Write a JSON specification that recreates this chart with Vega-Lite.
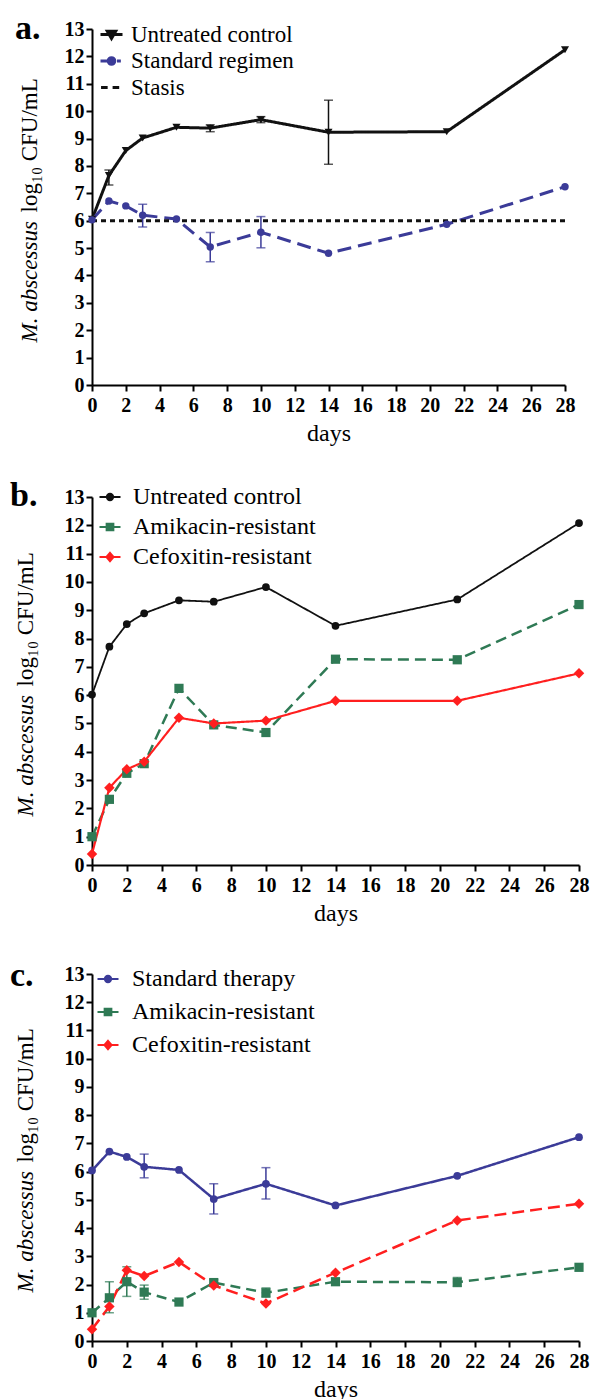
{
  "$schema": "https://vega.github.io/schema/vega-lite/v6.json",
  "background": "white",
  "padding": {"left": 10, "top": 12, "right": 2, "bottom": 2},
  "datasets": {
    "d": [
      {"panel":"a","series":"Untreated control","day":0,"v":6.05},
      {"panel":"a","series":"Untreated control","day":1,"v":7.65,"lo":7.3,"hi":7.85},
      {"panel":"a","series":"Untreated control","day":2,"v":8.56},
      {"panel":"a","series":"Untreated control","day":3,"v":9.02},
      {"panel":"a","series":"Untreated control","day":5,"v":9.41},
      {"panel":"a","series":"Untreated control","day":7,"v":9.38,"lo":9.25,"hi":9.5},
      {"panel":"a","series":"Untreated control","day":10,"v":9.69,"lo":9.58,"hi":9.8},
      {"panel":"a","series":"Untreated control","day":14,"v":9.23,"lo":8.06,"hi":10.4},
      {"panel":"a","series":"Untreated control","day":21,"v":9.25},
      {"panel":"a","series":"Untreated control","day":28,"v":12.24},
      {"panel":"a","series":"Standard regimen","day":0,"v":6.03},
      {"panel":"a","series":"Standard regimen","day":1,"v":6.72},
      {"panel":"a","series":"Standard regimen","day":2,"v":6.54},
      {"panel":"a","series":"Standard regimen","day":3,"v":6.2,"lo":5.77,"hi":6.6},
      {"panel":"a","series":"Standard regimen","day":5,"v":6.06},
      {"panel":"a","series":"Standard regimen","day":7,"v":5.04,"lo":4.5,"hi":5.57},
      {"panel":"a","series":"Standard regimen","day":10,"v":5.58,"lo":5.01,"hi":6.15},
      {"panel":"a","series":"Standard regimen","day":14,"v":4.81},
      {"panel":"a","series":"Standard regimen","day":21,"v":5.87},
      {"panel":"a","series":"Standard regimen","day":28,"v":7.24},
      {"panel":"a","series":"Stasis","day":0,"v":6.0},
      {"panel":"a","series":"Stasis","day":28,"v":6.0},
      {"panel":"b","series":"Untreated control","day":0,"v":6.02},
      {"panel":"b","series":"Untreated control","day":1,"v":7.71},
      {"panel":"b","series":"Untreated control","day":2,"v":8.51},
      {"panel":"b","series":"Untreated control","day":3,"v":8.89},
      {"panel":"b","series":"Untreated control","day":5,"v":9.35},
      {"panel":"b","series":"Untreated control","day":7,"v":9.3},
      {"panel":"b","series":"Untreated control","day":10,"v":9.82},
      {"panel":"b","series":"Untreated control","day":14,"v":8.45},
      {"panel":"b","series":"Untreated control","day":21,"v":9.38},
      {"panel":"b","series":"Untreated control","day":28,"v":12.08},
      {"panel":"b","series":"Amikacin-resistant","day":0,"v":1.0},
      {"panel":"b","series":"Amikacin-resistant","day":1,"v":2.32},
      {"panel":"b","series":"Amikacin-resistant","day":2,"v":3.24},
      {"panel":"b","series":"Amikacin-resistant","day":3,"v":3.58},
      {"panel":"b","series":"Amikacin-resistant","day":5,"v":6.24},
      {"panel":"b","series":"Amikacin-resistant","day":7,"v":4.95},
      {"panel":"b","series":"Amikacin-resistant","day":10,"v":4.68},
      {"panel":"b","series":"Amikacin-resistant","day":14,"v":7.27},
      {"panel":"b","series":"Amikacin-resistant","day":21,"v":7.25},
      {"panel":"b","series":"Amikacin-resistant","day":28,"v":9.2},
      {"panel":"b","series":"Cefoxitin-resistant","day":0,"v":0.39},
      {"panel":"b","series":"Cefoxitin-resistant","day":1,"v":2.73},
      {"panel":"b","series":"Cefoxitin-resistant","day":2,"v":3.38},
      {"panel":"b","series":"Cefoxitin-resistant","day":3,"v":3.65},
      {"panel":"b","series":"Cefoxitin-resistant","day":5,"v":5.2},
      {"panel":"b","series":"Cefoxitin-resistant","day":7,"v":5.0},
      {"panel":"b","series":"Cefoxitin-resistant","day":10,"v":5.1},
      {"panel":"b","series":"Cefoxitin-resistant","day":14,"v":5.8},
      {"panel":"b","series":"Cefoxitin-resistant","day":21,"v":5.8},
      {"panel":"b","series":"Cefoxitin-resistant","day":28,"v":6.77},
      {"panel":"c","series":"Standard therapy","day":0,"v":6.04},
      {"panel":"c","series":"Standard therapy","day":1,"v":6.71},
      {"panel":"c","series":"Standard therapy","day":2,"v":6.52},
      {"panel":"c","series":"Standard therapy","day":3,"v":6.17,"lo":5.78,"hi":6.62},
      {"panel":"c","series":"Standard therapy","day":5,"v":6.06},
      {"panel":"c","series":"Standard therapy","day":7,"v":5.03,"lo":4.5,"hi":5.57},
      {"panel":"c","series":"Standard therapy","day":10,"v":5.57,"lo":5.03,"hi":6.14},
      {"panel":"c","series":"Standard therapy","day":14,"v":4.8},
      {"panel":"c","series":"Standard therapy","day":21,"v":5.85},
      {"panel":"c","series":"Standard therapy","day":28,"v":7.22},
      {"panel":"c","series":"Amikacin-resistant","day":0,"v":1.0},
      {"panel":"c","series":"Amikacin-resistant","day":1,"v":1.53,"lo":1.0,"hi":2.1},
      {"panel":"c","series":"Amikacin-resistant","day":2,"v":2.1,"lo":1.58,"hi":2.63},
      {"panel":"c","series":"Amikacin-resistant","day":3,"v":1.73,"lo":1.48,"hi":1.98},
      {"panel":"c","series":"Amikacin-resistant","day":5,"v":1.38},
      {"panel":"c","series":"Amikacin-resistant","day":7,"v":2.07,"lo":1.97,"hi":2.17},
      {"panel":"c","series":"Amikacin-resistant","day":10,"v":1.71,"lo":1.55,"hi":1.88},
      {"panel":"c","series":"Amikacin-resistant","day":14,"v":2.1,"lo":2.0,"hi":2.2},
      {"panel":"c","series":"Amikacin-resistant","day":21,"v":2.08,"lo":1.93,"hi":2.25},
      {"panel":"c","series":"Amikacin-resistant","day":28,"v":2.61},
      {"panel":"c","series":"Cefoxitin-resistant","day":0,"v":0.42},
      {"panel":"c","series":"Cefoxitin-resistant","day":1,"v":1.22},
      {"panel":"c","series":"Cefoxitin-resistant","day":2,"v":2.51},
      {"panel":"c","series":"Cefoxitin-resistant","day":3,"v":2.3},
      {"panel":"c","series":"Cefoxitin-resistant","day":5,"v":2.8},
      {"panel":"c","series":"Cefoxitin-resistant","day":7,"v":1.97},
      {"panel":"c","series":"Cefoxitin-resistant","day":10,"v":1.33},
      {"panel":"c","series":"Cefoxitin-resistant","day":14,"v":2.42},
      {"panel":"c","series":"Cefoxitin-resistant","day":21,"v":4.27},
      {"panel":"c","series":"Cefoxitin-resistant","day":28,"v":4.86}
    ]
  },
  "data": {"name": "d"},
  "columns": 1,
  "align": "none",
  "spacing": 34,
  "resolve": {"scale": {"color": "independent", "fill": "independent", "stroke": "independent", "strokeDash": "independent", "shape": "independent", "strokeWidth": "independent"}},
  "concat": [
    {
      "title": {"text": "a.", "anchor": "start", "frame": "group", "font": "Liberation Serif", "fontSize": 34, "fontWeight": "bold", "color": "black", "offset": 0, "baseline": "alphabetic", "dx": -77, "dy": 54},
      "width": 473, "height": 356,
      "transform": [{"filter": "datum.panel === 'a'"}],
      "layer": [
        {
          "encoding": {
            "x": {"field": "day", "type": "quantitative", "scale": {"domain": [0, 28], "nice": false},
              "axis": {"values": [0,2,4,6,8,10,12,14,16,18,20,22,24,26,28], "title": "days", "labelFlush": false, "labelOverlap": false, "labelPadding": 4, "titlePadding": 6}}
          },
          "layer": [
            {"mark": {"type": "line", "strokeWidth": 3},
              "encoding": {
                "y": {"field": "v", "type": "quantitative", "scale": {"domain": [0, 13], "nice": false},
                  "axis": {"values": [0,1,2,3,4,5,6,7,8,9,10,11,12,13], "labelOverlap": false, "title": "log₁₀ CFU/mL", "titleAngle": 270, "titleAlign": "left", "titleBaseline": "alphabetic", "titleX": -56, "titleY": 183}},
                "color": {"field": "series", "type": "nominal", "scale": {"range": ["#3b3b98", "#111111", "#111111"]}, "legend": null},
                "strokeDash": {"field": "series", "type": "nominal", "scale": {"range": [[14, 7], [5, 4], [1, 0]]}, "legend": null}
              }},
            {"transform": [{"filter": "isValid(datum.lo)"}], "mark": {"type": "rule", "strokeWidth": 1.5},
              "encoding": {"y": {"field": "lo", "type": "quantitative", "scale": {"domain": [0, 13], "nice": false},
                  "axis": {"values": [0,1,2,3,4,5,6,7,8,9,10,11,12,13], "labelOverlap": false, "title": "log₁₀ CFU/mL", "titleAngle": 270, "titleAlign": "left", "titleBaseline": "alphabetic", "titleX": -56, "titleY": 183}},
                "y2": {"field": "hi"},
                "color": {"field": "series", "type": "nominal", "legend": null}}},
            {"transform": [{"filter": "isValid(datum.lo)"}], "mark": {"type": "tick", "orient": "horizontal", "size": 9, "thickness": 1.5},
              "encoding": {"y": {"field": "lo", "type": "quantitative", "scale": {"domain": [0, 13], "nice": false},
                  "axis": {"values": [0,1,2,3,4,5,6,7,8,9,10,11,12,13], "labelOverlap": false, "title": "log₁₀ CFU/mL", "titleAngle": 270, "titleAlign": "left", "titleBaseline": "alphabetic", "titleX": -56, "titleY": 183}},
                "color": {"field": "series", "type": "nominal", "legend": null}}},
            {"transform": [{"filter": "isValid(datum.lo)"}], "mark": {"type": "tick", "orient": "horizontal", "size": 9, "thickness": 1.5},
              "encoding": {"y": {"field": "hi", "type": "quantitative", "scale": {"domain": [0, 13], "nice": false},
                  "axis": {"values": [0,1,2,3,4,5,6,7,8,9,10,11,12,13], "labelOverlap": false, "title": "log₁₀ CFU/mL", "titleAngle": 270, "titleAlign": "left", "titleBaseline": "alphabetic", "titleX": -56, "titleY": 183}},
                "color": {"field": "series", "type": "nominal", "legend": null}}},
            {"transform": [{"filter": "datum.series === 'Untreated control'"}], "mark": {"type": "point", "filled": true, "opacity": 1, "size": 65, "shape": "triangle-down", "color": "#111111"},
              "encoding": {"y": {"field": "v", "type": "quantitative", "scale": {"domain": [0, 13], "nice": false},
                  "axis": {"values": [0,1,2,3,4,5,6,7,8,9,10,11,12,13], "labelOverlap": false, "title": "log₁₀ CFU/mL", "titleAngle": 270, "titleAlign": "left", "titleBaseline": "alphabetic", "titleX": -56, "titleY": 183}}}},
            {"transform": [{"filter": "datum.series === 'Standard regimen'"}], "mark": {"type": "point", "filled": true, "opacity": 1, "size": 55, "shape": "circle", "color": "#3b3b98"},
              "encoding": {"y": {"field": "v", "type": "quantitative", "scale": {"domain": [0, 13], "nice": false},
                  "axis": {"values": [0,1,2,3,4,5,6,7,8,9,10,11,12,13], "labelOverlap": false, "title": "log₁₀ CFU/mL", "titleAngle": 270, "titleAlign": "left", "titleBaseline": "alphabetic", "titleX": -56, "titleY": 183}}}},
            {"transform": [{"filter": "datum.panel === 'none'"}], "mark": {"type": "point", "opacity": 1, "size": 484, "strokeWidth": 3},
              "encoding": {
                "y": {"field": "v", "type": "quantitative", "scale": {"domain": [0, 13], "nice": false},
                  "axis": {"values": [0,1,2,3,4,5,6,7,8,9,10,11,12,13], "labelOverlap": false, "title": "log₁₀ CFU/mL", "titleAngle": 270, "titleAlign": "left", "titleBaseline": "alphabetic", "titleX": -56, "titleY": 183}},
                "fill": {"field": "series", "type": "nominal", "scale": {"domain": ["Untreated control", "Standard regimen", "Stasis"], "range": ["#111111", "#3b3b98", "#111111"]},
                  "legend": {"title": null, "orient": "none", "legendX": 7, "legendY": -7, "padding": 0, "labelFont": "Liberation Serif", "labelFontSize": 23, "labelColor": "black", "labelOffset": 7, "labelLimit": 0, "symbolSize": 484, "symbolStrokeWidth": 3, "rowPadding": 1.5}},
                "stroke": {"field": "series", "type": "nominal", "scale": {"domain": ["Untreated control", "Standard regimen", "Stasis"], "range": ["#111111", "#3b3b98", "#111111"]},
                  "legend": {"title": null, "orient": "none", "legendX": 7, "legendY": -7, "padding": 0, "labelFont": "Liberation Serif", "labelFontSize": 23, "labelColor": "black", "labelOffset": 7, "labelLimit": 0, "symbolSize": 484, "symbolStrokeWidth": 3, "rowPadding": 1.5}},
                "shape": {"field": "series", "type": "nominal", "scale": {"domain": ["Untreated control", "Standard regimen", "Stasis"], "range": ["M-1,0H1M-0.38,-0.3H0.38L0,0.36Z", "M-1,0H-0.4M-0.3,0A0.3,0.3,0,1,0,0.3,0A0.3,0.3,0,1,0,-0.3,0ZM0.5,0H0.85", "M-0.95,0H-0.35M0.1,0H0.7"]},
                  "legend": {"title": null, "orient": "none", "legendX": 7, "legendY": -7, "padding": 0, "labelFont": "Liberation Serif", "labelFontSize": 23, "labelColor": "black", "labelOffset": 7, "labelLimit": 0, "symbolSize": 484, "symbolStrokeWidth": 3, "rowPadding": 1.5}}
              }}
          ]
        },
        {"mark": {"type": "point", "opacity": 0},
          "encoding": {"y": {"field": "v", "type": "quantitative", "scale": {"domain": [0, 13], "nice": false},
            "axis": {"orient": "left", "title": "M. abscessus", "titleFontStyle": "italic", "labels": false, "ticks": false, "domain": false, "titleAngle": 270, "titleAlign": "left", "titleBaseline": "alphabetic", "titleX": -56, "titleY": 313}}}}
      ],
      "resolve": {"scale": {"y": "independent"}}
    },
    {
      "title": {"text": "b.", "anchor": "start", "frame": "group", "font": "Liberation Serif", "fontSize": 34, "fontWeight": "bold", "color": "black", "offset": 0, "baseline": "alphabetic", "dx": -82, "dy": 55},
      "width": 487, "height": 368,
      "transform": [{"filter": "datum.panel === 'b'"}],
      "layer": [
        {
          "encoding": {
            "x": {"field": "day", "type": "quantitative", "scale": {"domain": [0, 28], "nice": false},
              "axis": {"values": [0,2,4,6,8,10,12,14,16,18,20,22,24,26,28], "title": "days", "labelFlush": false, "labelOverlap": false, "labelPadding": 4, "titlePadding": 6}}
          },
          "layer": [
            {"mark": {"type": "line"},
              "encoding": {
                "y": {"field": "v", "type": "quantitative", "scale": {"domain": [0, 13], "nice": false},
                  "axis": {"values": [0,1,2,3,4,5,6,7,8,9,10,11,12,13], "labelOverlap": false, "title": "log₁₀ CFU/mL", "titleAngle": 270, "titleAlign": "left", "titleBaseline": "alphabetic", "titleX": -60, "titleY": 189}},
                "color": {"field": "series", "type": "nominal", "scale": {"range": ["#2f7a55", "#ff1f1f", "#111111"]}, "legend": null},
                "strokeDash": {"field": "series", "type": "nominal", "scale": {"range": [[11, 6], [1, 0], [1, 0]]}, "legend": null},
                "strokeWidth": {"field": "series", "type": "ordinal", "scale": {"range": [2.5, 1.8, 1.5]}, "legend": null}
              }},
            {"transform": [{"filter": "datum.series === 'Untreated control'"}], "mark": {"type": "point", "filled": true, "opacity": 1, "size": 60, "shape": "circle", "color": "#111111"},
              "encoding": {"y": {"field": "v", "type": "quantitative", "scale": {"domain": [0, 13], "nice": false},
                  "axis": {"values": [0,1,2,3,4,5,6,7,8,9,10,11,12,13], "labelOverlap": false, "title": "log₁₀ CFU/mL", "titleAngle": 270, "titleAlign": "left", "titleBaseline": "alphabetic", "titleX": -60, "titleY": 189}}}},
            {"transform": [{"filter": "datum.series === 'Amikacin-resistant'"}], "mark": {"type": "point", "filled": true, "opacity": 1, "size": 85, "shape": "square", "color": "#2f7a55"},
              "encoding": {"y": {"field": "v", "type": "quantitative", "scale": {"domain": [0, 13], "nice": false},
                  "axis": {"values": [0,1,2,3,4,5,6,7,8,9,10,11,12,13], "labelOverlap": false, "title": "log₁₀ CFU/mL", "titleAngle": 270, "titleAlign": "left", "titleBaseline": "alphabetic", "titleX": -60, "titleY": 189}}}},
            {"transform": [{"filter": "datum.series === 'Cefoxitin-resistant'"}], "mark": {"type": "point", "filled": true, "opacity": 1, "size": 110, "shape": "diamond", "color": "#ff1f1f"},
              "encoding": {"y": {"field": "v", "type": "quantitative", "scale": {"domain": [0, 13], "nice": false},
                  "axis": {"values": [0,1,2,3,4,5,6,7,8,9,10,11,12,13], "labelOverlap": false, "title": "log₁₀ CFU/mL", "titleAngle": 270, "titleAlign": "left", "titleBaseline": "alphabetic", "titleX": -60, "titleY": 189}}}},
            {"transform": [{"filter": "datum.panel === 'none'"}], "mark": {"type": "point", "opacity": 1, "size": 441, "strokeWidth": 2},
              "encoding": {
                "y": {"field": "v", "type": "quantitative", "scale": {"domain": [0, 13], "nice": false},
                  "axis": {"values": [0,1,2,3,4,5,6,7,8,9,10,11,12,13], "labelOverlap": false, "title": "log₁₀ CFU/mL", "titleAngle": 270, "titleAlign": "left", "titleBaseline": "alphabetic", "titleX": -60, "titleY": 189}},
                "fill": {"field": "series", "type": "nominal", "scale": {"domain": ["Untreated control", "Amikacin-resistant", "Cefoxitin-resistant"], "range": ["#111111", "#2f7a55", "#ff1f1f"]},
                  "legend": {"title": null, "orient": "none", "legendX": 6, "legendY": -12, "padding": 0, "labelFont": "Liberation Serif", "labelFontSize": 24, "labelColor": "black", "labelOffset": 11, "labelLimit": 0, "symbolSize": 441, "symbolStrokeWidth": 2, "rowPadding": 6}},
                "stroke": {"field": "series", "type": "nominal", "scale": {"domain": ["Untreated control", "Amikacin-resistant", "Cefoxitin-resistant"], "range": ["#111111", "#2f7a55", "#ff1f1f"]},
                  "legend": {"title": null, "orient": "none", "legendX": 6, "legendY": -12, "padding": 0, "labelFont": "Liberation Serif", "labelFontSize": 24, "labelColor": "black", "labelOffset": 11, "labelLimit": 0, "symbolSize": 441, "symbolStrokeWidth": 2, "rowPadding": 6}},
                "shape": {"field": "series", "type": "nominal", "scale": {"domain": ["Untreated control", "Amikacin-resistant", "Cefoxitin-resistant"], "range": ["M-1,0H1M-0.3,0A0.3,0.3,0,1,0,0.3,0A0.3,0.3,0,1,0,-0.3,0Z", "M-1,0H1M-0.32,-0.32H0.32V0.32H-0.32Z", "M-1,0H1M0,-0.4L0.34,0L0,0.4L-0.34,0Z"]},
                  "legend": {"title": null, "orient": "none", "legendX": 6, "legendY": -12, "padding": 0, "labelFont": "Liberation Serif", "labelFontSize": 24, "labelColor": "black", "labelOffset": 11, "labelLimit": 0, "symbolSize": 441, "symbolStrokeWidth": 2, "rowPadding": 6}}
              }}
          ]
        },
        {"mark": {"type": "point", "opacity": 0},
          "encoding": {"y": {"field": "v", "type": "quantitative", "scale": {"domain": [0, 13], "nice": false},
            "axis": {"orient": "left", "title": "M. abscessus", "titleFontStyle": "italic", "labels": false, "ticks": false, "domain": false, "titleAngle": 270, "titleAlign": "left", "titleBaseline": "alphabetic", "titleX": -60, "titleY": 319}}}}
      ],
      "resolve": {"scale": {"y": "independent"}}
    },
    {
      "title": {"text": "c.", "anchor": "start", "frame": "group", "font": "Liberation Serif", "fontSize": 34, "fontWeight": "bold", "color": "black", "offset": 0, "baseline": "alphabetic", "dx": -82, "dy": 56},
      "width": 487, "height": 367,
      "transform": [{"filter": "datum.panel === 'c'"}],
      "layer": [
        {
          "encoding": {
            "x": {"field": "day", "type": "quantitative", "scale": {"domain": [0, 28], "nice": false},
              "axis": {"values": [0,2,4,6,8,10,12,14,16,18,20,22,24,26,28], "title": "days", "labelFlush": false, "labelOverlap": false, "labelPadding": 4, "titlePadding": 6}}
          },
          "layer": [
            {"mark": {"type": "line"},
              "encoding": {
                "y": {"field": "v", "type": "quantitative", "scale": {"domain": [0, 13], "nice": false},
                  "axis": {"values": [0,1,2,3,4,5,6,7,8,9,10,11,12,13], "labelOverlap": false, "title": "log₁₀ CFU/mL", "titleAngle": 270, "titleAlign": "left", "titleBaseline": "alphabetic", "titleX": -60, "titleY": 188}},
                "color": {"field": "series", "type": "nominal", "scale": {"range": ["#2f7a55", "#ff1f1f", "#3b3b98"]}, "legend": null},
                "strokeDash": {"field": "series", "type": "nominal", "scale": {"range": [[10, 6], [12, 6], [1, 0]]}, "legend": null},
                "strokeWidth": {"field": "series", "type": "ordinal", "scale": {"range": [2.5, 2.5, 1.8]}, "legend": null}
              }},
            {"transform": [{"filter": "isValid(datum.lo)"}], "mark": {"type": "rule", "strokeWidth": 1.5},
              "encoding": {"y": {"field": "lo", "type": "quantitative", "scale": {"domain": [0, 13], "nice": false},
                  "axis": {"values": [0,1,2,3,4,5,6,7,8,9,10,11,12,13], "labelOverlap": false, "title": "log₁₀ CFU/mL", "titleAngle": 270, "titleAlign": "left", "titleBaseline": "alphabetic", "titleX": -60, "titleY": 188}},
                "y2": {"field": "hi"},
                "color": {"field": "series", "type": "nominal", "legend": null}}},
            {"transform": [{"filter": "isValid(datum.lo)"}], "mark": {"type": "tick", "orient": "horizontal", "size": 9, "thickness": 1.5},
              "encoding": {"y": {"field": "lo", "type": "quantitative", "scale": {"domain": [0, 13], "nice": false},
                  "axis": {"values": [0,1,2,3,4,5,6,7,8,9,10,11,12,13], "labelOverlap": false, "title": "log₁₀ CFU/mL", "titleAngle": 270, "titleAlign": "left", "titleBaseline": "alphabetic", "titleX": -60, "titleY": 188}},
                "color": {"field": "series", "type": "nominal", "legend": null}}},
            {"transform": [{"filter": "isValid(datum.lo)"}], "mark": {"type": "tick", "orient": "horizontal", "size": 9, "thickness": 1.5},
              "encoding": {"y": {"field": "hi", "type": "quantitative", "scale": {"domain": [0, 13], "nice": false},
                  "axis": {"values": [0,1,2,3,4,5,6,7,8,9,10,11,12,13], "labelOverlap": false, "title": "log₁₀ CFU/mL", "titleAngle": 270, "titleAlign": "left", "titleBaseline": "alphabetic", "titleX": -60, "titleY": 188}},
                "color": {"field": "series", "type": "nominal", "legend": null}}},
            {"transform": [{"filter": "datum.series === 'Standard therapy'"}], "mark": {"type": "point", "filled": true, "opacity": 1, "size": 60, "shape": "circle", "color": "#3b3b98"},
              "encoding": {"y": {"field": "v", "type": "quantitative", "scale": {"domain": [0, 13], "nice": false},
                  "axis": {"values": [0,1,2,3,4,5,6,7,8,9,10,11,12,13], "labelOverlap": false, "title": "log₁₀ CFU/mL", "titleAngle": 270, "titleAlign": "left", "titleBaseline": "alphabetic", "titleX": -60, "titleY": 188}}}},
            {"transform": [{"filter": "datum.series === 'Amikacin-resistant'"}], "mark": {"type": "point", "filled": true, "opacity": 1, "size": 85, "shape": "square", "color": "#2f7a55"},
              "encoding": {"y": {"field": "v", "type": "quantitative", "scale": {"domain": [0, 13], "nice": false},
                  "axis": {"values": [0,1,2,3,4,5,6,7,8,9,10,11,12,13], "labelOverlap": false, "title": "log₁₀ CFU/mL", "titleAngle": 270, "titleAlign": "left", "titleBaseline": "alphabetic", "titleX": -60, "titleY": 188}}}},
            {"transform": [{"filter": "datum.series === 'Cefoxitin-resistant'"}], "mark": {"type": "point", "filled": true, "opacity": 1, "size": 110, "shape": "diamond", "color": "#ff1f1f"},
              "encoding": {"y": {"field": "v", "type": "quantitative", "scale": {"domain": [0, 13], "nice": false},
                  "axis": {"values": [0,1,2,3,4,5,6,7,8,9,10,11,12,13], "labelOverlap": false, "title": "log₁₀ CFU/mL", "titleAngle": 270, "titleAlign": "left", "titleBaseline": "alphabetic", "titleX": -60, "titleY": 188}}}},
            {"transform": [{"filter": "datum.panel === 'none'"}], "mark": {"type": "point", "opacity": 1, "size": 441, "strokeWidth": 2},
              "encoding": {
                "y": {"field": "v", "type": "quantitative", "scale": {"domain": [0, 13], "nice": false},
                  "axis": {"values": [0,1,2,3,4,5,6,7,8,9,10,11,12,13], "labelOverlap": false, "title": "log₁₀ CFU/mL", "titleAngle": 270, "titleAlign": "left", "titleBaseline": "alphabetic", "titleX": -60, "titleY": 188}},
                "fill": {"field": "series", "type": "nominal", "scale": {"domain": ["Standard therapy", "Amikacin-resistant", "Cefoxitin-resistant"], "range": ["#3b3b98", "#2f7a55", "#ff1f1f"]},
                  "legend": {"title": null, "orient": "none", "legendX": 4, "legendY": -7, "padding": 0, "labelFont": "Liberation Serif", "labelFontSize": 24, "labelColor": "black", "labelOffset": 12, "labelLimit": 0, "symbolSize": 441, "symbolStrokeWidth": 2, "rowPadding": 9}},
                "stroke": {"field": "series", "type": "nominal", "scale": {"domain": ["Standard therapy", "Amikacin-resistant", "Cefoxitin-resistant"], "range": ["#3b3b98", "#2f7a55", "#ff1f1f"]},
                  "legend": {"title": null, "orient": "none", "legendX": 4, "legendY": -7, "padding": 0, "labelFont": "Liberation Serif", "labelFontSize": 24, "labelColor": "black", "labelOffset": 12, "labelLimit": 0, "symbolSize": 441, "symbolStrokeWidth": 2, "rowPadding": 9}},
                "shape": {"field": "series", "type": "nominal", "scale": {"domain": ["Standard therapy", "Amikacin-resistant", "Cefoxitin-resistant"], "range": ["M-1,0H1M-0.3,0A0.3,0.3,0,1,0,0.3,0A0.3,0.3,0,1,0,-0.3,0Z", "M-1,0H1M-0.32,-0.32H0.32V0.32H-0.32Z", "M-1,0H1M0,-0.4L0.34,0L0,0.4L-0.34,0Z"]},
                  "legend": {"title": null, "orient": "none", "legendX": 4, "legendY": -7, "padding": 0, "labelFont": "Liberation Serif", "labelFontSize": 24, "labelColor": "black", "labelOffset": 12, "labelLimit": 0, "symbolSize": 441, "symbolStrokeWidth": 2, "rowPadding": 9}}
              }}
          ]
        },
        {"mark": {"type": "point", "opacity": 0},
          "encoding": {"y": {"field": "v", "type": "quantitative", "scale": {"domain": [0, 13], "nice": false},
            "axis": {"orient": "left", "title": "M. abscessus", "titleFontStyle": "italic", "labels": false, "ticks": false, "domain": false, "titleAngle": 270, "titleAlign": "left", "titleBaseline": "alphabetic", "titleX": -60, "titleY": 318}}}}
      ],
      "resolve": {"scale": {"y": "independent"}}
    }
  ],
  "config": {
    "view": {"stroke": null},
    "font": "Liberation Serif",
    "axis": {"domainColor": "black", "domainWidth": 2, "tickColor": "black", "tickWidth": 2, "tickSize": 6, "grid": false, "labelOverlap": false,
      "labelFont": "Liberation Serif", "labelFontWeight": "bold", "labelFontSize": 20, "labelColor": "black", "labelPadding": 2,
      "titleFont": "Liberation Serif", "titleFontWeight": "normal", "titleFontSize": 24, "titleColor": "black"},
    "axisY": {"titleFontSize": 23}
  }
}
